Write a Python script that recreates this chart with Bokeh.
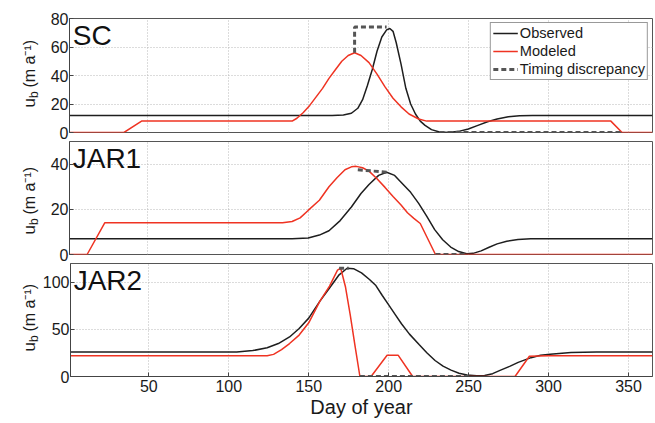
import math
from bokeh.plotting import figure
from bokeh.layouts import column, row
from bokeh.models import Label, Legend, LegendItem, FixedTicker, Range1d
from bokeh.embed import file_html
from bokeh.resources import INLINE

# ---------------- data ----------------
x_ticks = [50, 100, 150, 200, 250, 300, 350]

sc_obs_day = [1, 165, 172, 177, 181, 184, 187, 190, 193, 196, 199, 201, 203, 205, 208, 211, 214, 217, 220, 223, 227, 232, 238, 244, 250, 256, 262, 268, 275, 282, 290, 365]
sc_obs_val = [12, 12, 12.3, 13.5, 17, 23, 33, 44, 57, 67, 72, 73, 71, 63, 48, 31, 20, 13, 8, 5, 2, 0.3, 0, 0.8, 2.5, 5, 7.5, 9.5, 11, 11.8, 12, 12]
sc_mod_day = [1, 35, 46, 140, 143, 147, 151, 155, 159, 163, 167, 171, 175, 179, 183, 188, 193, 198, 203, 208, 213, 219, 224, 339, 346, 365]
sc_mod_val = [0, 0, 8, 8, 10, 14, 19, 25, 31, 38, 44, 50, 54, 56, 54, 49, 41, 32, 24, 18, 13, 9.5, 8, 8, 0, 0]
sc_gap_day = [[179, 179, 199], [232, 346]]
sc_gap_val = [[56, 74, 74], [0, 0]]

j1_obs_day = [1, 140, 150, 157, 163, 170, 177, 183, 188, 194, 199, 204, 208, 214, 219, 224, 229, 234, 239, 244, 249, 253, 258, 263, 268, 274, 281, 289, 365]
j1_obs_val = [7, 7, 7.3, 8.6, 10.5, 15, 21, 27, 31, 35, 36.4, 35, 32, 27.5, 22.6, 17, 11, 6.5, 3.3, 1.3, 0.3, 0.5, 1.6, 3.2, 4.7, 5.9, 6.6, 7, 7]
j1_mod_day = [1, 12, 23, 134, 140, 145, 150, 157, 163, 168, 173, 177, 180, 184, 188, 193, 198, 203, 208, 212, 216, 220, 229.5, 365]
j1_mod_val = [0, 0, 14, 14, 14.6, 16.2, 19.5, 24, 30, 34, 37.5, 38.8, 39, 38.4, 36.9, 33.5, 29.7, 25.7, 21.9, 18.5, 16, 13.7, 0, 0]
j1_gap_day = [[181, 199], [229.5, 249]]
j1_gap_val = [[37.5, 36.4], [0, 0]]

j2_obs_day = [1, 105, 115, 124, 131, 138, 144, 150, 157, 163, 169, 174, 178, 183, 188, 192, 196, 200, 204, 208, 213, 219, 224, 229, 234, 239, 244, 249, 255, 260, 265, 270, 276, 281, 289, 295, 301, 314, 330, 365]
j2_obs_val = [26, 26, 27.5, 30.5, 35, 42, 51, 62, 80, 94, 108, 115, 114.5, 110, 103, 96.6, 86, 76, 66, 56, 45, 34, 25, 17, 11, 6.8, 3.5, 1.7, 0.8, 1, 3, 6.8, 11, 15, 20, 22.5, 23.7, 25.4, 26, 26]
j2_mod_day = [1, 124, 128, 133, 138, 144, 150, 157, 163, 168, 170, 173, 176, 179, 182, 189, 199, 206, 215, 279, 288, 300, 365]
j2_mod_val = [22, 22, 23.5, 28.5, 35, 44, 57, 80, 96, 113, 115, 95, 65, 32, 0, 0, 22.5, 22.5, 0, 0, 21.5, 22, 22]
j2_gap_day = [[169, 175], [182, 252]]
j2_gap_val = [[115, 115], [0, 0]]

y_label_main = "(m a\u207b\u00b9)"

panels = [
    dict(name="SC", obs=(sc_obs_day, sc_obs_val), mod=(sc_mod_day, sc_mod_val), gap=(sc_gap_day, sc_gap_val),
         ymax=80, yticks=[0, 20, 40, 60, 80]),
    dict(name="JAR1", obs=(j1_obs_day, j1_obs_val), mod=(j1_mod_day, j1_mod_val), gap=(j1_gap_day, j1_gap_val),
         ymax=50, yticks=[0, 20, 40]),
    dict(name="JAR2", obs=(j2_obs_day, j2_obs_val), mod=(j2_mod_day, j2_mod_val), gap=(j2_gap_day, j2_gap_val),
         ymax=120, yticks=[0, 50, 100]),
]

OBS_C = "#1e1e1e"
MOD_C = "#ef3322"
GAP_C = "#555555"
FONT = "Liberation Sans"
TXT_C = "#1a1a1a"

LW = 39                     # width of the y-label strip
heights = [141, 122, 157]
tops = [18, 0, 0]
bottoms = [9, 9, 40]
label_y0 = [25, 20, 25]     # start of the rotated label, from the frame bottom

rows = []
for i, pn in enumerate(panels):
    last = (i == len(panels) - 1)
    p = figure(width=654 - LW, height=heights[i], output_backend="svg", toolbar_location=None,
               x_range=Range1d(1, 365), y_range=Range1d(0, pn["ymax"]),
               min_border_left=69 - LW, min_border_right=2, min_border_top=tops[i],
               min_border_bottom=bottoms[i])
    p.background_fill_color = "white"
    p.border_fill_color = "white"
    p.outline_line_color = "#555555"
    p.outline_line_width = 1

    for ax in (p.xaxis[0], p.yaxis[0]):
        ax.axis_line_color = "#444444"
        ax.major_tick_in = 4
        ax.major_tick_out = 0
        ax.minor_tick_line_color = None
        ax.major_tick_line_color = "#444444"
        ax.major_label_text_font = FONT
        ax.major_label_text_font_size = "16px"
        ax.major_label_text_color = TXT_C
    p.xaxis.ticker = FixedTicker(ticks=x_ticks)
    p.yaxis.ticker = FixedTicker(ticks=pn["yticks"])
    p.yaxis.major_label_standoff = 1
    if last:
        p.xaxis.axis_label = "Day of year"
        p.xaxis.axis_label_text_font = FONT
        p.xaxis.axis_label_text_font_size = "20px"
        p.xaxis.axis_label_text_font_style = "normal"
        p.xaxis.axis_label_text_color = TXT_C
        p.xaxis.axis_label_standoff = 1
        p.xaxis.major_label_standoff = 3
    else:
        p.xaxis.visible = False

    p.grid.grid_line_color = "#b8b8b8"
    p.grid.grid_line_dash = "1 2"
    p.grid.grid_line_width = 1
    p.xgrid.ticker = FixedTicker(ticks=x_ticks)
    p.ygrid.ticker = FixedTicker(ticks=pn["yticks"])

    r_obs = p.line(pn["obs"][0], pn["obs"][1], line_color=OBS_C, line_width=1.5)
    r_mod = p.line(pn["mod"][0], pn["mod"][1], line_color=MOD_C, line_width=1.5)
    r_gap = p.multi_line(pn["gap"][0], pn["gap"][1], line_color=GAP_C, line_width=3, line_dash="5 3")

    p.add_layout(Label(x=3, y=pn["ymax"], y_offset=-1, text=pn["name"], text_font=FONT,
                       text_font_size="28px", text_baseline="top", text_align="left",
                       text_color="#111111"))

    if i == 0:
        leg = Legend(items=[LegendItem(label="Observed", renderers=[r_obs]),
                            LegendItem(label="Modeled", renderers=[r_mod]),
                            LegendItem(label="Timing discrepancy", renderers=[r_gap])],
                     location="top_right")
        leg.label_text_font = FONT
        leg.label_text_font_size = "14.6px"
        leg.label_text_color = TXT_C
        leg.glyph_width = 25
        leg.glyph_height = 16
        leg.label_height = 16
        leg.label_standoff = 2
        leg.spacing = 2
        leg.padding = 2
        leg.margin = 4
        leg.border_line_color = "#333333"
        leg.border_line_width = 1
        leg.background_fill_color = "white"
        leg.background_fill_alpha = 1
        p.add_layout(leg)

    # strip on the left carrying the rotated y-axis label u_b (m a^-1)
    s = figure(width=LW, height=heights[i], output_backend="svg", toolbar_location=None,
               x_axis_location=None, y_axis_location=None, min_border=0,
               min_border_left=0, min_border_right=0, min_border_top=0, min_border_bottom=0,
               x_range=Range1d(0, 1), y_range=Range1d(0, 1))
    s.outline_line_color = None
    s.grid.visible = False
    s.background_fill_color = "white"
    s.border_fill_color = "white"
    y0 = label_y0[i]
    s.add_layout(Label(x=29, y=y0, x_units="screen", y_units="screen", text="u", angle=math.pi / 2,
                       text_font=FONT, text_font_size="17px", text_baseline="middle",
                       text_align="left", text_color=TXT_C))
    s.add_layout(Label(x=33, y=y0 + 9.5, x_units="screen", y_units="screen", text="b", angle=math.pi / 2,
                       text_font=FONT, text_font_size="12px", text_baseline="middle",
                       text_align="left", text_color=TXT_C))
    s.add_layout(Label(x=29, y=y0 + 20, x_units="screen", y_units="screen", text=y_label_main,
                       angle=math.pi / 2, text_font=FONT, text_font_size="16px",
                       text_baseline="middle", text_align="left", text_color=TXT_C))
    rows.append(row(s, p, spacing=0))

layout = column(*rows, spacing=0)
open("out.html", "w").write(file_html(layout, INLINE))
